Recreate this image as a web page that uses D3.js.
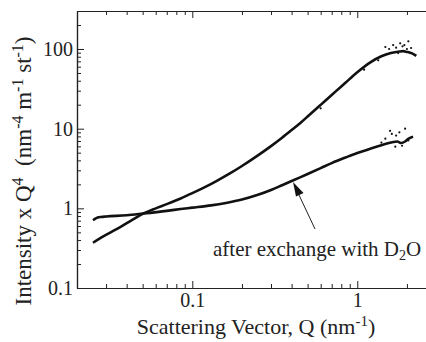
<!DOCTYPE html>
<html><head><meta charset="utf-8">
<script src="https://cdn.jsdelivr.net/npm/d3@7"></script>
<style>
html,body{margin:0;padding:0;background:#fff;}
svg, svg text{font-family:"Liberation Serif","Times New Roman","DejaVu Serif",serif !important;}
</style></head>
<body><svg id="c" width="426" height="342"></svg>
<script>
// Untreated sample (upper curve at high Q)
const qA = [0.025,0.028,0.032,0.037,0.043,0.05,0.06,0.07,0.085,0.1,0.12,0.14,0.17,0.2,0.25,0.3,0.35,0.4,0.45,0.5,0.6,0.7,0.8,0.9,1.0,1.2,1.4,1.6,1.8,1.9,2.0,2.15,2.28];
const iA = [0.37,0.43,0.50,0.59,0.71,0.85,1.0,1.13,1.33,1.55,1.86,2.2,2.76,3.4,4.62,6.04,7.7,9.6,11.7,14.2,19.9,26.5,33.9,42.2,51,68,81,89,93,94,92,88,82];
// After exchange with D2O
const qB = [0.025,0.026,0.028,0.03,0.04,0.05,0.07,0.085,0.1,0.13,0.16,0.2,0.25,0.3,0.35,0.4,0.45,0.5,0.6,0.7,0.85,1.0,1.2,1.4,1.6,1.75,1.85,1.95,2.05,2.18];
const iB = [0.71,0.75,0.78,0.79,0.82,0.86,0.93,0.98,1.02,1.09,1.17,1.29,1.48,1.70,1.95,2.2,2.45,2.7,3.2,3.7,4.35,4.95,5.6,6.2,6.7,6.9,6.6,6.9,7.5,7.9];
// Scattered points near high Q
const sqA = [1.34,1.48,1.56,1.65,1.72,1.77,1.82,1.88,1.93,2.0,2.04,2.12,0.6,1.1];
const siA = [72,106,100,112,104,89,118,108,112,100,125,103,18,55];
const sqB = [1.48,1.58,1.62,1.7,1.72,1.87,1.95,2.04,1.8,1.4];
const siB = [7.5,9.4,8.6,5.95,8.2,6.1,10,7.1,9.0,6.7];
const xMajor = [0.1,1];
const yMajor = [0.1,1,10,100];
const xMinor = [0.03,0.04,0.05,0.06,0.07,0.08,0.09,0.2,0.3,0.4,0.5,0.6,0.7,0.8,0.9,2];
const yMinor = [0.2,0.3,0.4,0.5,0.6,0.7,0.8,0.9,2,3,4,5,6,7,8,9,20,30,40,50,60,70,80,90,200,300];

const L=77, T=11, R=426, B=288;
const FONT="Liberation Serif, Times New Roman, DejaVu Serif, serif";
const svg = d3.select("#c");
const x = d3.scaleLog().domain([0.02,2.61]).range([L,R]);
const y = d3.scaleLog().domain([0.1,300]).range([B,T]);
const col="#222";
const FS=22, SS=15;

function styleAxis(g){
  g.attr("font-family",FONT);
  g.selectAll("path.domain").attr("stroke",col).attr("stroke-width",1.2);
  g.selectAll(".tick line").attr("stroke",col).attr("stroke-width",1);
  g.selectAll(".tick text").attr("fill",col).attr("font-size",20).attr("font-family",FONT);
}
// bottom
svg.append("g").attr("transform",`translate(0,${B})`)
  .call(d3.axisBottom(x).tickValues(xMajor).tickFormat(d=>d===1?"1":"0.1").tickSize(-7).tickSizeOuter(0).tickPadding(5)).call(styleAxis);
svg.append("g").attr("transform",`translate(0,${B})`)
  .call(d3.axisBottom(x).tickValues(xMinor).tickFormat("").tickSize(-4).tickSizeOuter(0)).call(styleAxis);
// top
svg.append("g").attr("transform",`translate(0,${T})`)
  .call(d3.axisTop(x).tickValues(xMajor).tickFormat("").tickSize(-7).tickSizeOuter(0)).call(styleAxis);
svg.append("g").attr("transform",`translate(0,${T})`)
  .call(d3.axisTop(x).tickValues(xMinor).tickFormat("").tickSize(-4).tickSizeOuter(0)).call(styleAxis);
// left
svg.append("g").attr("transform",`translate(${L},0)`)
  .call(d3.axisLeft(y).tickValues(yMajor).tickFormat(d=>d<1?"0.1":String(d)).tickSize(-7).tickSizeOuter(0).tickPadding(4)).call(styleAxis);
svg.append("g").attr("transform",`translate(${L},0)`)
  .call(d3.axisLeft(y).tickValues(yMinor).tickFormat("").tickSize(-4).tickSizeOuter(0)).call(styleAxis);

// curves
const line = d3.line().x(d=>x(d[0])).y(d=>y(d[1])).curve(d3.curveMonotoneX);
const dA = qA.map((q,i)=>[q,iA[i]]);
const dB = qB.map((q,i)=>[q,iB[i]]);
svg.append("path").attr("d",line(dA)).attr("fill","none").attr("stroke","#111").attr("stroke-width",2.6);
svg.append("path").attr("d",line(dB)).attr("fill","none").attr("stroke","#111").attr("stroke-width",2.6);
const pts = sqA.map((q,i)=>[q,siA[i]]).concat(sqB.map((q,i)=>[q,siB[i]]));
svg.selectAll("circle.s").data(pts).enter().append("circle")
  .attr("cx",d=>x(d[0])).attr("cy",d=>y(d[1])).attr("r",1.1).attr("fill","#111");

// annotation
svg.append("line").attr("x1",315).attr("y1",229).attr("x2",299).attr("y2",195)
  .attr("stroke",col).attr("stroke-width",1);
svg.append("path").attr("d","M293,182 L303.5,193 L296,196.5 Z").attr("fill","#111");
const ann = svg.append("text").attr("x",213).attr("y",256).attr("font-size",21).attr("font-family",FONT).attr("fill",col);
ann.append("tspan").text("after exchange with D");
ann.append("tspan").attr("font-size",14).attr("dy",4).text("2");
ann.append("tspan").attr("dy",-4).text("O");

// x label
const xl = svg.append("text").attr("x",256).attr("y",334).attr("text-anchor","middle").attr("font-size",FS).attr("font-family",FONT).attr("fill",col);
xl.append("tspan").text("Scattering Vector, Q (nm");
xl.append("tspan").attr("font-size",SS).attr("dy",-8).text("-1");
xl.append("tspan").attr("dy",8).text(")");

// y label
const yl = svg.append("text").attr("transform","translate(31,171) rotate(-90)").attr("text-anchor","middle").attr("font-size",23).attr("font-family",FONT).attr("fill",col);
yl.append("tspan").text("Intensity x Q");
yl.append("tspan").attr("font-size",SS+1).attr("dy",-8).text("4");
yl.append("tspan").attr("dy",8).text("\u00a0\u00a0(nm");
yl.append("tspan").attr("font-size",SS+1).attr("dy",-8).text("-4");
yl.append("tspan").attr("dy",8).text("\u00a0m");
yl.append("tspan").attr("font-size",SS+1).attr("dy",-8).text("-1");
yl.append("tspan").attr("dy",8).text("\u00a0st");
yl.append("tspan").attr("font-size",SS+1).attr("dy",-8).text("-1");
yl.append("tspan").attr("dy",8).text(")");
</script></body></html>
